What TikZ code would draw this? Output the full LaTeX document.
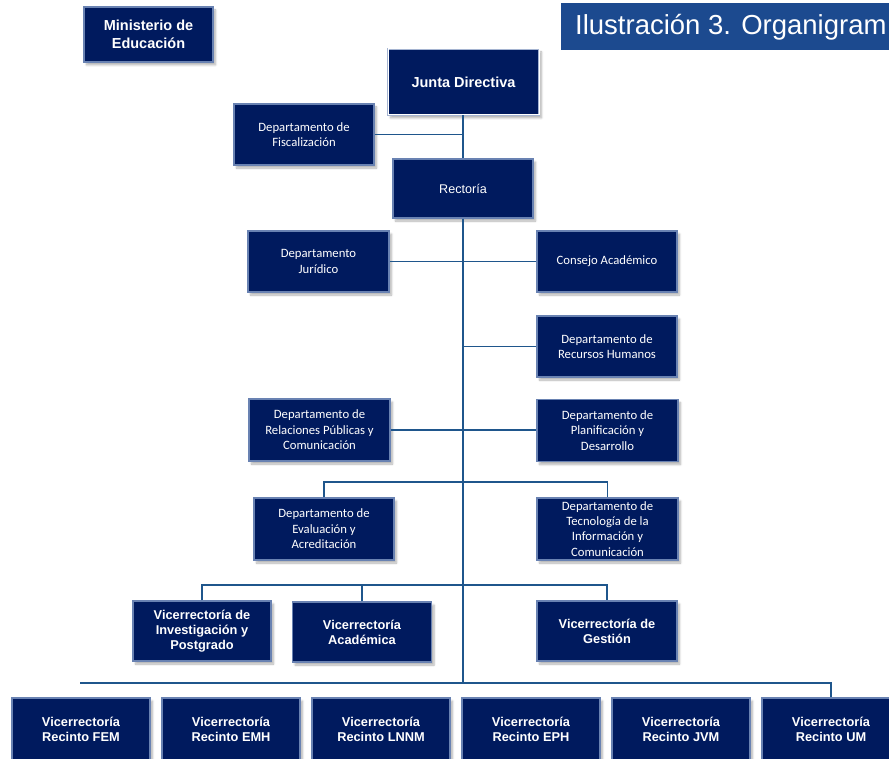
\documentclass[tikz,border=0pt]{standalone}
\usepackage{fontspec}
\setmainfont{Liberation Sans}
\newfontfamily\calfont{Carlito}
\usetikzlibrary{shadows.blur}

\definecolor{boxnavy}{RGB}{0,26,94}
\definecolor{boxedge}{RGB}{105,130,178}
\definecolor{linkblue}{RGB}{31,86,140}
\definecolor{bannerblue}{RGB}{28,74,143}

\tikzset{
  orgbox/.style={rectangle, fill=boxnavy, draw=boxedge, line width=1.2pt,
    text=white, align=center, inner sep=2pt,
    blur shadow={shadow xshift=2.5pt, shadow yshift=-3pt,
      shadow blur steps=6, shadow opacity=30}},
  headbox/.style={orgbox, font=\bfseries\fontsize{14.5}{18}\selectfont},
  deptbox/.style={orgbox, font=\calfont\fontsize{12.7}{15.4}\selectfont},
  vicebox/.style={orgbox, font=\bfseries\fontsize{12.8}{15}\selectfont},
  link/.style={draw=linkblue, line width=1.8pt}
}

\begin{document}
\begin{tikzpicture}[x=1pt, y=-1pt]
\useasboundingbox (0,0) rectangle (889,759);

% title banner
\fill[bannerblue] (561,3) rectangle (900,50);
\node[anchor=west, inner sep=0pt, text=white,
  font=\fontsize{27.5}{30}\selectfont] (title) at (575,27) {Ilustración 3. Organigram};

% governing bodies
\node[headbox, minimum width=129pt, minimum height=55pt] (min) at (148.5,34.5) {Ministerio de\\Educación};
\node[headbox, minimum width=151pt, minimum height=66pt,
  draw=boxedge!60, double=white, double distance=1pt, line width=0.8pt] (junta) at (463.5,82) {Junta Directiva};
\node[deptbox, minimum width=140pt, minimum height=61pt] (fisc) at (304,134.5) {Departamento de\\Fiscalización};
\node[orgbox, font=\fontsize{12.6}{15}\selectfont, minimum width=140pt, minimum height=59pt] (rect) at (463,188.5) {Rectoría};

% departments
\node[deptbox, minimum width=141pt, minimum height=61pt] (jur) at (318.5,261.5) {Departamento\\Jurídico};
\node[deptbox, minimum width=140pt, minimum height=61pt] (cons) at (607,261.5) {Consejo Académico};
\node[deptbox, minimum width=140pt, minimum height=61pt] (rrhh) at (607,346.5) {Departamento de\\Recursos Humanos};
\node[deptbox, minimum width=141pt, minimum height=62pt] (relp) at (319.5,430) {Departamento de\\Relaciones Públicas y\\Comunicación};
\node[deptbox, minimum width=141pt, minimum height=62pt] (plan) at (607.5,430.5) {Departamento de\\Planificación y\\Desarrollo};
\node[deptbox, minimum width=140pt, minimum height=62pt] (eval) at (324,529) {Departamento de\\Evaluación y\\Acreditación};
\node[deptbox, minimum width=141pt, minimum height=62pt,
  font=\calfont\fontsize{12.7}{15.1}\selectfont] (tec) at (607.5,529) {Departamento de\\Tecnología de la\\Información y\\Comunicación};

% vice-rectorates
\node[vicebox, minimum width=138pt, minimum height=60pt] (inv) at (202,631) {Vicerrectoría de\\Investigación y\\Postgrado};
\node[vicebox, minimum width=139pt, minimum height=60pt] (acad) at (362,632) {Vicerrectoría\\Académica};
\node[vicebox, minimum width=140pt, minimum height=60pt] (gest) at (607,631) {Vicerrectoría de\\Gestión};

% campus vice-rectorates
\node[vicebox, minimum width=138pt, minimum height=62pt] (fem)  at (81,729)  {Vicerrectoría\\Recinto FEM};
\node[vicebox, minimum width=138pt, minimum height=62pt] (emh)  at (231,729) {Vicerrectoría\\Recinto EMH};
\node[vicebox, minimum width=138pt, minimum height=62pt] (lnnm) at (381,729) {Vicerrectoría\\Recinto LNNM};
\node[vicebox, minimum width=138pt, minimum height=62pt] (eph)  at (531,729) {Vicerrectoría\\Recinto EPH};
\node[vicebox, minimum width=138pt, minimum height=62pt] (jvm)  at (681,729) {Vicerrectoría\\Recinto JVM};
\node[vicebox, minimum width=138pt, minimum height=62pt] (um)   at (831,729) {Vicerrectoría\\Recinto UM};

% connector junctions
\coordinate (spineend) at (463,683);
\coordinate (deptbar) at (463,482);
\coordinate (vicebar) at (463,585);
\coordinate (campusleft) at (80,683);

% main spine
\draw[link] (junta.south -| rect.north) -- (rect.north);
\draw[link] (fisc.east) -- (fisc.east -| rect.north);
\draw[link] (rect.south) -- (spineend);

% staff departments
\draw[link] (jur.east) -- (cons.west);
\draw[link] (rrhh.west -| rect.south) -- (rrhh.west);
\draw[link] (relp.east) -- (relp.east -| plan.west);
\draw[link] (eval.north) -- (eval.north |- deptbar) -- (tec.north |- deptbar) -- (tec.north);

% vice-rectorate bar
\draw[link] (inv.north) -- (inv.north |- vicebar) -- (gest.north |- vicebar) -- (gest.north);
\draw[link] (acad.north) -- (acad.north |- vicebar);

% campus bar
\draw[link] (campusleft) -- (um.north |- campusleft) -- (um.north);
\end{tikzpicture}
\end{document}
